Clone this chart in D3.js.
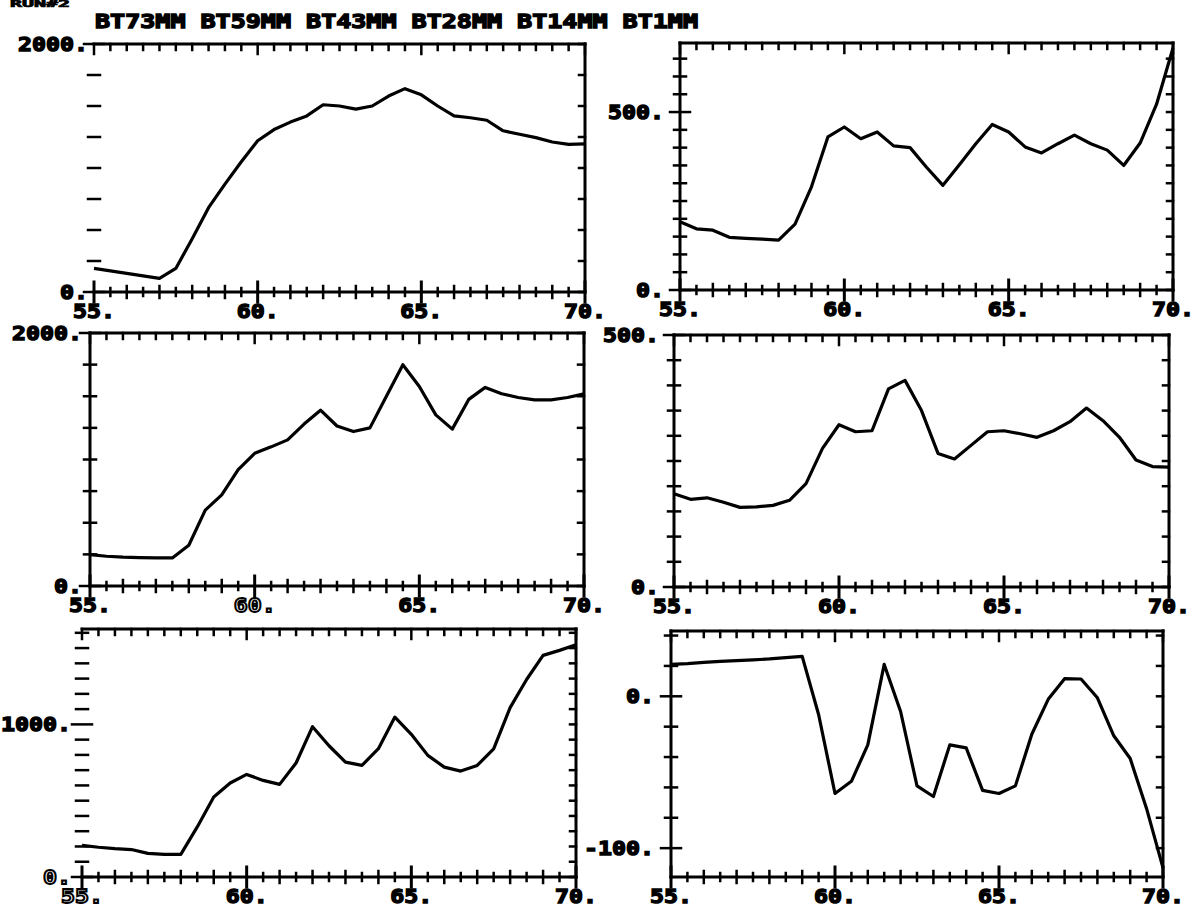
<!DOCTYPE html>
<html>
<head>
<meta charset="utf-8">
<script src="https://cdn.jsdelivr.net/npm/d3@7"></script>
<style>
  html, body { margin: 0; padding: 0; background: #fff; }
  svg { display: block; }
</style>
</head>
<body>
<svg id="chart" width="1195" height="915"></svg>
<script>
// Years (x axis) shared by every panel
const years = [55, 55.5, 56, 56.5, 57, 57.5, 58, 58.5, 59, 59.5, 60, 60.5, 61, 61.5, 62, 62.5,
               63, 63.5, 64, 64.5, 65, 65.5, 66, 66.5, 67, 67.5, 68, 68.5, 69, 69.5, 70];

// One series per sensor depth
const bt73mm = [190, 170, 150, 130, 110, 190, 430, 680, 870, 1050, 1220, 1310, 1370, 1420, 1510, 1500,
                1475, 1500, 1580, 1640, 1590, 1500, 1420, 1405, 1385, 1300, 1272, 1245, 1210, 1190, 1195];
const bt59mm = [192, 172, 168, 148, 145, 143, 140, 185, 290, 430, 458, 425, 444, 405, 400, 345,
                294, 352, 411, 465, 444, 402, 385, 411, 435, 411, 393, 350, 413, 522, 680];
const bt43mm = [248, 235, 228, 225, 222, 222, 322, 600, 720, 920, 1049, 1100, 1155, 1280, 1390, 1265,
                1221, 1250, 1500, 1749, 1577, 1353, 1240, 1475, 1570, 1520, 1490, 1472, 1472, 1490, 1519];
const bt28mm = [185, 174, 177, 168, 158, 159, 162, 172, 205, 275, 322, 308, 310, 393, 410, 350,
                265, 254, 281, 308, 310, 304, 297, 310, 328, 355, 330, 297, 252, 239, 238];
const bt14mm = [207, 195, 186, 180, 155, 148, 148, 328, 524, 616, 672, 633, 607, 747, 985, 860,
                753, 731, 841, 1048, 935, 797, 720, 694, 731, 840, 1110, 1294, 1452, 1485, 1522];
const bt1mm  = [21, 21.5, 22.3, 23, 23.5, 24, 24.6, 25.5, 26.3, -12, -64, -56, -32, 21, -10, -59,
                -66, -32, -34, -62, -64, -59, -25, -2, 11.6, 11.4, -1, -26, -41, -74, -113];

const seriesNames = ["BT73MM", "BT59MM", "BT43MM", "BT28MM", "BT14MM", "BT1MM"];
const runLabel = "RUN#2";

// Axis ranges and labelled tick values
const xDomain = [55, 70];
const xTickLabels = [55, 60, 65, 70];
const yDomains = [[0, 2000], [0, 694], [0, 2000], [0, 500], [0, 1625], [-119, 43]];
const yTickLabels = [[0, 2000], [0, 500], [0, 2000], [0, 500], [0, 1000], [-100, 0]];
const yTickSteps = [250, 50, 250, 50, 100, 20];

// Panel frames: [left, right, top, bottom] in pixels, plus drawing options
const layout = [
  { box: [94, 585, 44, 292],    leftSpine: false, labelGap: 6 },
  { box: [680, 1173, 43, 290],  leftSpine: true,  labelGap: 16 },
  { box: [90, 584, 333, 586],   leftSpine: true,  labelGap: 8 },
  { box: [674, 1169, 335, 587], leftSpine: true,  labelGap: 15 },
  { box: [82, 576, 629, 877],   leftSpine: false, labelGap: 11 },
  { box: [671, 1163, 631, 877], leftSpine: true,  labelGap: 17 }
];
const seriesData = [bt73mm, bt59mm, bt43mm, bt28mm, bt14mm, bt1mm];
// Labels printed in outline rather than solid
const hollowLabels = { "4:y:0": true, "4:x:55": true, "2:x:60": true };

const svg = d3.select("#chart");
const INK = "#000";
const CHAR_W = 14;

function label(g, str, px, py, anchor, hollow, size) {
  const t = g.append("text")
    .attr("x", px).attr("y", py)
    .attr("text-anchor", anchor)
    .attr("dominant-baseline", "central")
    .attr("textLength", str.length * CHAR_W)
    .attr("lengthAdjust", "spacingAndGlyphs")
    .style("font-family", "'DejaVu Sans Mono', monospace")
    .style("font-weight", "bold")
    .style("font-size", (size || 20) + "px")
    .text(str);
  if (hollow) {
    t.attr("fill", "#fff").attr("stroke", INK).attr("stroke-width", 1.8);
  } else {
    t.attr("fill", INK).attr("stroke", INK).attr("stroke-width", 1.4);
  }
  return t;
}

function seg(g, xa, ya, xb, yb, w) {
  g.append("line")
    .attr("x1", xa).attr("y1", ya).attr("x2", xb).attr("y2", yb)
    .attr("stroke", INK).attr("stroke-width", w).attr("stroke-linecap", "square");
}

// Run header at the sheet's top edge and series title line
label(svg, runLabel, 10, 4, "start", false, 8).attr("textLength", 60).attr("stroke-width", 0.6);
label(svg, seriesNames.join(" "), 95, 21, "start", false).attr("textLength", 603);

layout.forEach((cfg, i) => {
  const [x0, x1, y0, y1] = cfg.box;
  const dom = yDomains[i];
  const x = d3.scaleLinear().domain(xDomain).range([x0, x1]);
  const y = d3.scaleLinear().domain(dom).range([y1, y0]);
  const g = svg.append("g");

  // Frame
  seg(g, x0, y1, x1, y1, 3);
  seg(g, x0, y0, x1, y0, 3);
  seg(g, x1, y0, x1, y1, 3);
  if (cfg.leftSpine) seg(g, x0, y0, x0, y1, 3);

  // Year ticks: across the bottom axis, hanging from the top border
  d3.range(xDomain[0], xDomain[1] + 1e-9, 0.5).forEach(v => {
    const px = x(v);
    const major = Math.abs(v % 5) < 1e-9;
    const whole = Math.abs(v % 1) < 1e-9;
    const len = major ? 10 : (whole ? 6 : 4);
    seg(g, px, y1 - len, px, y1 + len, major ? 3 : 2.5);
    seg(g, px, y0, px, y0 + (major ? 10 : 6), 2.5);
  });

  // Value ticks: across the left axis, pointing in from the right border
  const step = yTickSteps[i];
  const labelled = yTickLabels[i];
  d3.range(Math.ceil(dom[0] / step) * step, dom[1] + 1e-9, step).forEach(v => {
    const py = y(v);
    const big = labelled.includes(v);
    const len = big ? 10 : 6;
    seg(g, x0 - len, py, x0 + len, py, 2.5);
    seg(g, x1 - 6, py, x1, py, 2.5);
  });

  // Series line
  const pts = years.map((t, k) => [t, seriesData[i][k]]);
  g.append("path")
    .datum(pts)
    .attr("fill", "none")
    .attr("stroke", INK)
    .attr("stroke-width", 3.2)
    .attr("stroke-linejoin", "round")
    .attr("d", d3.line().x(d => x(d[0])).y(d => y(d[1])));

  // Tick labels
  labelled.forEach(v => {
    label(g, v + ".", x0 - cfg.labelGap, y(v), "end", hollowLabels[i + ":y:" + v]);
  });
  xTickLabels.forEach(v => {
    label(g, v + ".", x(v), y1 + 19, "middle", hollowLabels[i + ":x:" + v]);
  });
});
</script>
</body>
</html>
